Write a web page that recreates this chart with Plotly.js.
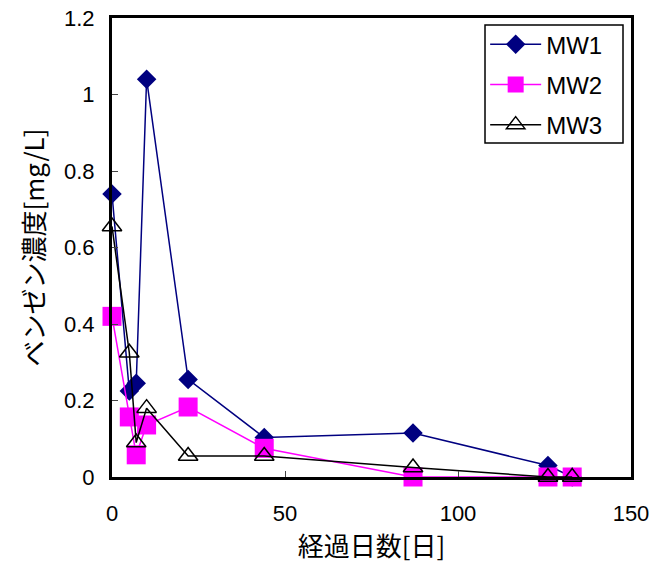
<!DOCTYPE html>
<html><head><meta charset="utf-8">
<script src="https://cdn.plot.ly/plotly-3.0.1.min.js"></script>
<style>body{margin:0;background:#fff}</style>
</head><body>
<div id="chart" style="width:650px;height:563px"></div>
<script>
const days = [0, 5, 7, 10, 22, 44, 87, 126, 133];
const mw1 = [0.74, 0.225, 0.245, 1.04, 0.255, 0.103, 0.115, 0.03, 0.0];
const mw2 = [0.42, 0.157, 0.058, 0.136, 0.183, 0.075, 0.0, 0.0, 0.0];
const mw3 = [0.655, 0.325, 0.09, 0.18, 0.055, 0.055, 0.025, 0.0, 0.0];
const seriesNames = ['MW1', 'MW2', 'MW3'];
const xTitle = '経過日数[日]';
const yTitle = 'ベンゼン濃度[mg/L]';

const traces = [
  {x: days, y: mw1, name: seriesNames[0], legendgroup: 'a', mode: 'lines+markers', cliponaxis: false,
   line: {color: '#000080', width: 1.5},
   marker: {symbol: 'diamond', size: 15, color: '#000080'}},
  {x: days, y: mw2, name: seriesNames[1], legendgroup: 'b', mode: 'lines+markers', cliponaxis: false,
   line: {color: '#FF00FF', width: 1.5},
   marker: {symbol: 'square', size: 19, color: '#FF00FF'}},
  {x: days, y: mw3, name: seriesNames[2], legendgroup: 'c', mode: 'lines+markers', cliponaxis: false,
   line: {color: '#000000', width: 1.5},
   marker: {symbol: 'triangle-up-open', size: 17, color: '#000000', line: {width: 1.5}}}
];

const layout = {
  width: 650, height: 563,
  margin: {l: 112, r: 19, t: 18, b: 86},
  paper_bgcolor: '#fff', plot_bgcolor: '#fff',
  font: {family: 'Liberation Sans, Arial, sans-serif', size: 22, color: '#000'},
  xaxis: {range: [0, 150], dtick: 50, tick0: 0, ticks: 'inside', ticklen: 6, tickwidth: 1,
    ticklabelstandoff: 15,
    showgrid: false, zeroline: false, showline: true, mirror: true, linecolor: '#000', linewidth: 3,
    title: {text: xTitle, font: {family: 'Noto Sans CJK JP, sans-serif', size: 26}, standoff: 9}},
  yaxis: {range: [0, 1.2], dtick: 0.2, tick0: 0, ticks: 'inside', ticklen: 6, tickwidth: 1,
    ticklabelstandoff: 10,
    showgrid: false, zeroline: false, showline: true, mirror: true, linecolor: '#000', linewidth: 3,
    title: {text: yTitle, font: {family: 'Noto Sans CJK JP, sans-serif', size: 26}, standoff: 12}},
  shapes: [{type: 'rect', xref: 'paper', yref: 'paper', x0: 0.7187, x1: 0.9846, y0: 0.7277, y1: 0.9847,
    line: {color: '#000', width: 1.5}, fillcolor: '#fff', layer: 'above'}],
  showlegend: true,
  legend: {x: 0.719, y: 0.991, xanchor: 'left', yanchor: 'top', bgcolor: 'rgba(0,0,0,0)',
    borderwidth: 0, font: {size: 24}, tracegroupgap: 6, itemwidth: 51}
};
Plotly.newPlot('chart', traces, layout, {displayModeBar: false});
</script>
</body></html>
